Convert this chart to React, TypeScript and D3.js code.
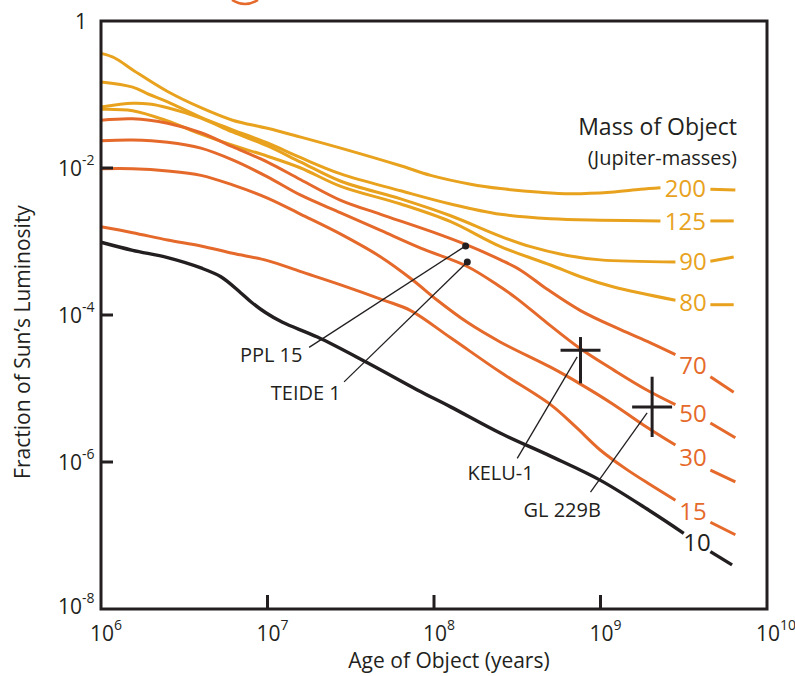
import React from 'react';
import * as d3 from 'd3';

type Pt = [number, number];

// values are [log10(age / yr), log10(L / L_sun)]
const mass200: Pt[] = [[6.00,-0.44],[6.08,-0.50],[6.20,-0.68],[6.40,-0.96],[6.60,-1.18],[6.79,-1.35],[7.00,-1.46],[7.20,-1.58],[7.44,-1.73],[7.80,-1.97],[7.98,-2.10],[8.22,-2.22],[8.40,-2.28],[8.64,-2.33],[8.82,-2.35],[9.06,-2.33],[9.24,-2.29],[9.36,-2.27]];
const mass200Tail: Pt[] = [[9.66,-2.29],[9.81,-2.30]];

const mass125: Pt[] = [[6.00,-0.83],[6.19,-0.90],[6.29,-1.00],[6.40,-1.10],[6.60,-1.31],[6.79,-1.48],[7.00,-1.66],[7.20,-1.86],[7.44,-2.08],[7.80,-2.31],[8.10,-2.49],[8.40,-2.63],[8.70,-2.69],[9.00,-2.71],[9.36,-2.72]];
const mass125Tail: Pt[] = [[9.66,-2.72],[9.80,-2.72]];

const mass90: Pt[] = [[6.00,-1.17],[6.19,-1.12],[6.29,-1.13],[6.40,-1.18],[6.60,-1.32],[6.79,-1.51],[7.00,-1.70],[7.20,-1.92],[7.44,-2.18],[7.80,-2.42],[8.10,-2.65],[8.40,-2.93],[8.58,-3.07],[8.80,-3.19],[9.00,-3.25],[9.45,-3.28]];
const mass90Tail: Pt[] = [[9.66,-3.27],[9.80,-3.21]];

const mass80: Pt[] = [[6.00,-1.20],[6.19,-1.22],[6.40,-1.36],[6.60,-1.54],[6.79,-1.69],[7.00,-1.84],[7.20,-2.00],[7.44,-2.25],[7.80,-2.49],[8.10,-2.73],[8.40,-3.07],[8.70,-3.32],[8.88,-3.48],[9.08,-3.62],[9.45,-3.80]];
const mass80Tail: Pt[] = [[9.66,-3.86],[9.80,-3.86]];

const mass70: Pt[] = [[6.00,-1.35],[6.19,-1.33],[6.40,-1.39],[6.60,-1.52],[6.79,-1.71],[7.00,-1.92],[7.20,-2.16],[7.44,-2.44],[7.68,-2.63],[7.99,-2.87],[8.20,-3.05],[8.40,-3.25],[8.52,-3.39],[8.68,-3.65],[8.88,-3.94],[9.12,-4.20],[9.30,-4.38],[9.45,-4.54]];
const mass70Tail: Pt[] = [[9.66,-4.84],[9.80,-5.05]];

const mass50: Pt[] = [[6.00,-1.63],[6.19,-1.62],[6.40,-1.65],[6.60,-1.73],[6.79,-1.89],[7.00,-2.12],[7.20,-2.37],[7.44,-2.61],[7.68,-2.85],[7.92,-3.09],[8.20,-3.34],[8.40,-3.62],[8.50,-3.78],[8.68,-4.11],[8.88,-4.46],[9.08,-4.75],[9.27,-5.01],[9.45,-5.22]];
const mass50Tail: Pt[] = [[9.66,-5.47],[9.81,-5.67]];

const mass30: Pt[] = [[6.00,-2.01],[6.19,-2.01],[6.40,-2.04],[6.60,-2.10],[6.79,-2.23],[7.00,-2.41],[7.20,-2.63],[7.44,-2.90],[7.68,-3.21],[7.87,-3.52],[8.02,-3.80],[8.20,-4.10],[8.40,-4.37],[8.70,-4.71],[8.88,-4.94],[9.08,-5.22],[9.26,-5.50],[9.45,-5.77]];
const mass30Tail: Pt[] = [[9.66,-6.11],[9.81,-6.27]];

const mass15: Pt[] = [[6.00,-2.80],[6.19,-2.88],[6.40,-2.98],[6.60,-3.06],[6.79,-3.16],[7.00,-3.26],[7.20,-3.41],[7.44,-3.59],[7.70,-3.80],[7.86,-3.94],[8.10,-4.31],[8.40,-4.78],[8.70,-5.22],[8.85,-5.52],[9.00,-5.84],[9.15,-6.09],[9.30,-6.31],[9.45,-6.52]];
const mass15Tail: Pt[] = [[9.66,-6.82],[9.81,-6.99]];

const mass10: Pt[] = [[6.00,-3.01],[6.19,-3.12],[6.40,-3.22],[6.60,-3.36],[6.72,-3.48],[6.84,-3.70],[6.90,-3.82],[6.99,-3.97],[7.09,-4.10],[7.30,-4.30],[7.60,-4.65],[7.90,-5.02],[8.10,-5.25],[8.40,-5.61],[8.70,-5.92],[9.00,-6.25],[9.30,-6.67],[9.50,-6.97]];
const mass10Tail: Pt[] = [[9.66,-7.22],[9.79,-7.40]];

const massLabels = ['200', '125', '90', '80', '70', '50', '30', '15', '10'];

// observed objects
const dotNames = ['PPL 15', 'TEIDE 1'];
const dotPoints: Pt[] = [[8.19, -3.06], [8.20, -3.28]];
const dotLabelAt: Pt[] = [[7.21, -4.64], [7.44, -5.15]];
const dotLeaderEnd: Pt[] = [[7.25, -4.44], [7.46, -4.91]];

const crossNames = ['KELU-1', 'GL 229B'];
const crossPoints: Pt[] = [[8.88, -4.48], [9.31, -5.25]];
const crossAgeErr = [0.12, 0.12];
const crossLumUp = [0.18, 0.41];
const crossLumDown = [0.45, 0.41];
const crossLeaderStart: Pt[] = [[8.86, -4.57], [9.28, -5.33]];
const crossLeaderEnd: Pt[] = [[8.50, -5.95], [8.94, -6.41]];
const crossLabelAt: Pt[] = [[8.40, -6.25], [8.77, -6.75]];

const ageTicks = [6, 7, 8, 9, 10];
const lumTicks = [0, -2, -4, -6, -8];

const GOLD = '#e8a21e';
const ORANGE = '#e5692a';
const INK = '#231f20';
const FONT = '"Open Sans", "Noto Sans", sans-serif';

const tracks = [
  { main: mass200, tail: mass200Tail, color: GOLD },
  { main: mass125, tail: mass125Tail, color: GOLD },
  { main: mass90, tail: mass90Tail, color: GOLD },
  { main: mass80, tail: mass80Tail, color: GOLD },
  { main: mass70, tail: mass70Tail, color: ORANGE },
  { main: mass50, tail: mass50Tail, color: ORANGE },
  { main: mass30, tail: mass30Tail, color: ORANGE },
  { main: mass15, tail: mass15Tail, color: ORANGE },
  { main: mass10, tail: mass10Tail, color: INK },
].map((t, i) => ({ ...t, label: massLabels[i] }));

export default function App() {
  const width = 795;
  const height = 676;
  const x = d3.scaleLinear().domain([6, 10]).range([101, 767]);
  const y = d3.scaleLinear().domain([0, -8]).range([21, 609]);

  const line = d3
    .line<Pt>()
    .x((d) => x(d[0]))
    .y((d) => y(d[1]))
    .curve(d3.curveCatmullRom.alpha(0.5));

  const [x0, x1] = x.range();
  const [y0, y1] = y.range();

  return (
    <svg
      width={width}
      height={height}
      style={{ position: 'absolute', left: 0, top: 0, background: '#fff' }}
      fontFamily={FONT}
    >
      {/* clipped mark at the top edge of the source figure */}
      <path d="M232,0 Q245,8 258,0" fill="none" stroke={ORANGE} strokeWidth={2.5} />

      {tracks.map((t) => {
        const end = t.main[t.main.length - 1];
        const start = t.tail[0];
        const lx = (x(end[0]) + x(start[0])) / 2;
        const ly = (y(end[1]) + y(start[1])) / 2;
        const sw = t.color === INK ? 3.4 : 3;
        return (
          <g key={t.label}>
            <path d={line(t.main) || ''} fill="none" stroke={t.color} strokeWidth={sw} />
            <path d={line(t.tail) || ''} fill="none" stroke={t.color} strokeWidth={sw} />
            <text x={lx} y={ly} dy="0.36em" textAnchor="middle" fontSize={24} fill={t.color}>
              {t.label}
            </text>
          </g>
        );
      })}

      {/* frame */}
      <rect x={x0} y={y0} width={x1 - x0} height={y1 - y0} fill="none" stroke={INK} strokeWidth={3} />

      {lumTicks.map((e) => (
        <g key={'l' + e}>
          {e !== 0 && e !== -8 && (
            <line x1={x0} x2={x0 + 12} y1={y(e)} y2={y(e)} stroke={INK} strokeWidth={3} />
          )}
          {e === 0 ? (
            <text x={x0 - 14} y={y(e)} dy="0.36em" textAnchor="end" fontSize={21} fill={INK}>1</text>
          ) : (
            <g>
              <text x={x0 - 19} y={y(e) - (e === -8 ? 3 : 0)} dy="0.36em" textAnchor="end" fontSize={21} fill={INK}>10</text>
              <text x={x0 - 19} y={y(e) - 3 - (e === -8 ? 3 : 0)} textAnchor="start" fontSize={14} fill={INK}>{e}</text>
            </g>
          )}
        </g>
      ))}

      {ageTicks.map((e) => (
        <g key={'a' + e}>
          {e !== 6 && e !== 10 && (
            <line x1={x(e)} x2={x(e)} y1={y1} y2={y1 - 14} stroke={INK} strokeWidth={3} />
          )}
          <text x={x(e) + 1} y={y1 + 32} textAnchor="middle" fontSize={21} fill={INK}>10</text>
          <text x={x(e) + 13} y={y1 + 21} textAnchor="start" fontSize={14} fill={INK}>{e}</text>
        </g>
      ))}

      <text x={449} y={668} textAnchor="middle" fontSize={21} fill={INK}>Age of Object (years)</text>
      <text transform={`translate(30,${342}) rotate(-90)`} textAnchor="middle" fontSize={21} fill={INK}>
        Fraction of Sun’s Luminosity
      </text>

      <text x={737} y={135} textAnchor="end" fontSize={23} fill={INK}>Mass of Object</text>
      <text x={737} y={165} textAnchor="end" fontSize={20} fill={INK}>(Jupiter-masses)</text>

      {dotNames.map((n, i) => (
        <g key={n}>
          <line
            x1={x(dotPoints[i][0])}
            y1={y(dotPoints[i][1])}
            x2={x(dotLeaderEnd[i][0])}
            y2={y(dotLeaderEnd[i][1])}
            stroke={INK}
            strokeWidth={1.3}
          />
          <circle cx={x(dotPoints[i][0])} cy={y(dotPoints[i][1])} r={3.5} fill={INK} />
          <text x={x(dotLabelAt[i][0])} y={y(dotLabelAt[i][1])} textAnchor="end" fontSize={20} fill={INK}>{n}</text>
        </g>
      ))}

      {crossNames.map((n, i) => {
        const [a, l] = crossPoints[i];
        return (
          <g key={n}>
            <line
              x1={x(crossLeaderStart[i][0])}
              y1={y(crossLeaderStart[i][1])}
              x2={x(crossLeaderEnd[i][0])}
              y2={y(crossLeaderEnd[i][1])}
              stroke={INK}
              strokeWidth={1.3}
            />
            <line x1={x(a - crossAgeErr[i])} x2={x(a + crossAgeErr[i])} y1={y(l)} y2={y(l)} stroke={INK} strokeWidth={3} />
            <line x1={x(a)} x2={x(a)} y1={y(l + crossLumUp[i])} y2={y(l - crossLumDown[i])} stroke={INK} strokeWidth={3} />
            <text x={x(crossLabelAt[i][0])} y={y(crossLabelAt[i][1])} textAnchor="middle" fontSize={20} fill={INK}>{n}</text>
          </g>
        );
      })}
    </svg>
  );
}
